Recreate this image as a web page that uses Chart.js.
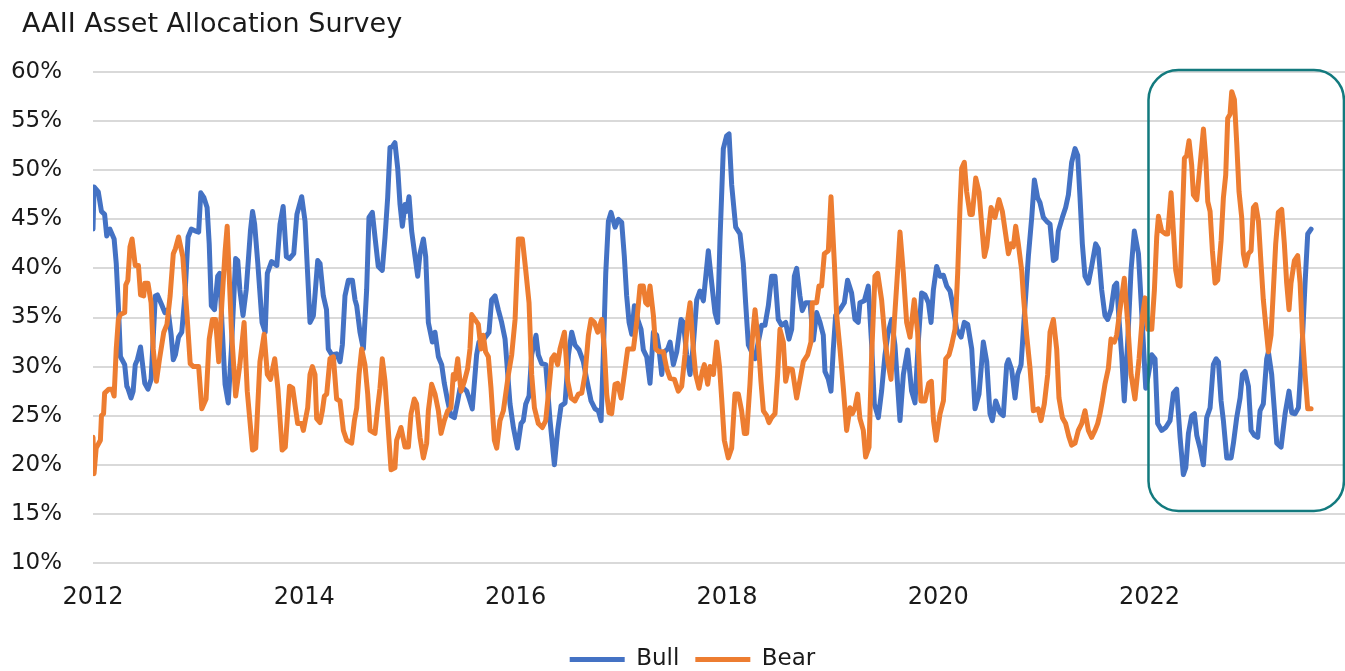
<!DOCTYPE html>
<html>
<head>
<meta charset="utf-8">
<title>AAII Asset Allocation Survey</title>
<script src="https://cdn.jsdelivr.net/npm/chart.js@4.4.0/dist/chart.umd.min.js"></script>
<style>
  html, body { margin: 0; padding: 0; background: #fff; }
</style>
</head>
<body>
<canvas id="surveyChart" width="1345" height="671"></canvas>
<script>
const chartTitle = 'AAII Asset Allocation Survey';
const seriesNames = ['Bull', 'Bear'];
const yearTicks = [2012, 2014, 2016, 2018, 2020, 2022];

// Bull sentiment, %
const bullYears = [
  2012.00, 2012.01, 2012.05, 2012.08, 2012.11, 2012.13, 2012.16, 2012.20, 2012.22, 2012.24,
  2012.26, 2012.30, 2012.32, 2012.33, 2012.36, 2012.38, 2012.40, 2012.42, 2012.45, 2012.49,
  2012.52, 2012.55, 2012.59, 2012.61, 2012.65, 2012.68, 2012.71, 2012.74, 2012.76, 2012.78,
  2012.81, 2012.84, 2012.87, 2012.90, 2012.93, 2012.97, 2013.00, 2013.02, 2013.05, 2013.08,
  2013.10, 2013.12, 2013.15, 2013.18, 2013.20, 2013.22, 2013.25, 2013.28, 2013.31, 2013.35,
  2013.37, 2013.39, 2013.42, 2013.45, 2013.49, 2013.51, 2013.53, 2013.56, 2013.60, 2013.63,
  2013.65, 2013.69, 2013.74, 2013.77, 2013.80, 2013.83, 2013.86, 2013.90, 2013.93, 2013.975,
  2014.007, 2014.054, 2014.086, 2014.127, 2014.149, 2014.18, 2014.21, 2014.227, 2014.26, 2014.306,
  2014.338, 2014.36, 2014.385, 2014.417, 2014.455, 2014.48, 2014.496, 2014.527, 2014.559, 2014.59,
  2014.612, 2014.644, 2014.669, 2014.70, 2014.738, 2014.764, 2014.789, 2014.811, 2014.833, 2014.858,
  2014.884, 2014.906, 2014.928, 2014.953, 2014.969, 2014.991, 2015.016, 2015.048, 2015.073, 2015.095,
  2015.127, 2015.149, 2015.174, 2015.212, 2015.237, 2015.269, 2015.30, 2015.325, 2015.357, 2015.388,
  2015.42, 2015.452, 2015.474, 2015.505, 2015.537, 2015.559, 2015.59, 2015.631, 2015.653, 2015.694,
  2015.748, 2015.773, 2015.805, 2015.836, 2015.868, 2015.90, 2015.947, 2015.979, 2016.017, 2016.051,
  2016.073, 2016.096, 2016.127, 2016.152, 2016.193, 2016.215, 2016.247, 2016.285, 2016.326, 2016.367,
  2016.398, 2016.43, 2016.468, 2016.50, 2016.531, 2016.562, 2016.60, 2016.641, 2016.673, 2016.714,
  2016.752, 2016.783, 2016.809, 2016.83, 2016.853, 2016.878, 2016.903, 2016.941, 2016.973, 2017.004,
  2017.029, 2017.051, 2017.074, 2017.099, 2017.124, 2017.156, 2017.187, 2017.209, 2017.241, 2017.272,
  2017.304, 2017.335, 2017.357, 2017.383, 2017.408, 2017.44, 2017.462, 2017.493, 2017.525, 2017.566,
  2017.588, 2017.619, 2017.651, 2017.682, 2017.714, 2017.745, 2017.777, 2017.824, 2017.856, 2017.887,
  2017.912, 2017.934, 2017.966, 2017.997, 2018.02, 2018.045, 2018.083, 2018.124, 2018.155, 2018.177,
  2018.203, 2018.234, 2018.266, 2018.297, 2018.329, 2018.36, 2018.392, 2018.423, 2018.455, 2018.486,
  2018.518, 2018.556, 2018.587, 2018.613, 2018.638, 2018.66, 2018.691, 2018.713, 2018.745, 2018.786,
  2018.818, 2018.849, 2018.881, 2018.912, 2018.928, 2018.96, 2018.985, 2019.007, 2019.029, 2019.07,
  2019.111, 2019.142, 2019.18, 2019.212, 2019.243, 2019.259, 2019.30, 2019.338, 2019.37, 2019.395,
  2019.433, 2019.464, 2019.496, 2019.527, 2019.559, 2019.59, 2019.638, 2019.67, 2019.71, 2019.748,
  2019.78, 2019.811, 2019.843, 2019.875, 2019.907, 2019.932, 2019.954, 2019.985, 2020.017, 2020.049,
  2020.08, 2020.112, 2020.134, 2020.175, 2020.216, 2020.247, 2020.279, 2020.317, 2020.348, 2020.386,
  2020.427, 2020.459, 2020.49, 2020.512, 2020.544, 2020.585, 2020.616, 2020.648, 2020.664, 2020.695,
  2020.727, 2020.752, 2020.784, 2020.815, 2020.853, 2020.885, 2020.91, 2020.941, 2020.963, 2020.995,
  2021.026, 2021.058, 2021.09, 2021.115, 2021.137, 2021.175, 2021.206, 2021.232, 2021.263, 2021.295,
  2021.32, 2021.342, 2021.364, 2021.389, 2021.421, 2021.452, 2021.49, 2021.515, 2021.547, 2021.578,
  2021.604, 2021.635, 2021.667, 2021.689, 2021.711, 2021.736, 2021.761, 2021.793, 2021.825, 2021.856,
  2021.895, 2021.926, 2021.964, 2021.989, 2022.021, 2022.052, 2022.077, 2022.115, 2022.153, 2022.194,
  2022.226, 2022.257, 2022.289, 2022.32, 2022.343, 2022.368, 2022.399, 2022.425, 2022.447, 2022.478,
  2022.51, 2022.541, 2022.573, 2022.604, 2022.63, 2022.652, 2022.677, 2022.699, 2022.731, 2022.772,
  2022.794, 2022.825, 2022.857, 2022.879, 2022.904, 2022.936, 2022.961, 2022.992, 2023.024, 2023.046,
  2023.077, 2023.109, 2023.125, 2023.156, 2023.182, 2023.204, 2023.245, 2023.283, 2023.32, 2023.346,
  2023.377, 2023.409, 2023.44, 2023.472, 2023.497, 2023.529
];
const bullValues = [
  44.0, 48.3, 47.8, 45.8, 45.5, 43.3, 44.0, 43.0, 40.5, 36.2,
  31.0, 30.2, 28.0, 27.8, 26.8, 27.5, 30.2, 30.7, 32.0, 28.3,
  27.7, 28.7, 37.2, 37.3, 36.3, 35.5, 35.8, 33.2, 30.7, 31.2,
  33.0, 33.5, 37.2, 43.2, 44.0, 43.8, 43.7, 47.7, 47.2, 46.2,
  42.5, 36.2, 35.8, 39.2, 39.5, 34.5, 28.2, 26.3, 31.8, 41.0,
  40.8, 37.8, 35.2, 37.8, 43.8, 45.8, 44.5, 40.5, 34.5, 33.5,
  39.5, 40.7, 40.3, 44.5, 46.3, 41.2, 41.0, 41.5, 45.5, 47.3,
  44.8, 34.5, 35.2, 40.8, 40.5, 37.2, 35.8, 31.8, 31.2, 31.3,
  30.5, 32.2, 37.2, 38.8, 38.8, 36.8, 36.2, 33.5, 31.8, 37.8,
  45.2, 45.7, 43.2, 40.2, 39.8, 43.2, 47.2, 52.3, 52.4, 52.8,
  50.2, 46.5, 44.3, 46.5, 45.8, 47.3, 43.8, 41.2, 39.2, 41.5,
  43.0, 41.2, 34.5, 32.5, 33.5, 31.0, 30.2, 28.3, 26.5, 25.0,
  24.8, 26.5, 27.8, 27.8, 27.5, 26.8, 25.7, 31.2, 32.5, 32.7,
  33.5, 36.8, 37.2, 35.8, 34.5, 32.8, 26.2, 23.8, 21.7, 24.2,
  24.5, 26.2, 27.0, 31.2, 33.2, 31.2, 30.3, 30.2, 24.5, 20.0,
  23.5, 26.0, 26.3, 31.2, 33.5, 32.2, 31.7, 30.5, 28.7, 26.5,
  25.7, 25.5, 24.5, 31.2, 39.5, 44.8, 45.7, 44.2, 45.0, 44.7,
  41.2, 37.2, 34.5, 33.3, 36.2, 34.8, 33.8, 31.7, 31.0, 28.3,
  33.5, 33.2, 31.8, 29.2, 31.5, 31.8, 32.5, 30.2, 31.5, 34.8,
  34.5, 31.2, 29.2, 32.2, 36.8, 37.7, 36.7, 41.8, 38.5, 35.5,
  34.5, 42.8, 52.2, 53.5, 53.7, 48.5, 44.2, 43.5, 40.5, 36.5,
  32.2, 31.5, 30.8, 32.5, 34.2, 34.2, 36.2, 39.2, 39.2, 34.8,
  34.2, 34.5, 32.8, 33.8, 39.2, 40.0, 37.2, 35.7, 36.5, 36.5,
  32.7, 35.5, 34.5, 33.2, 29.5, 28.7, 27.5, 31.8, 35.2, 35.8,
  36.5, 38.8, 37.5, 34.8, 34.5, 36.5, 36.7, 38.2, 32.2, 26.2,
  24.8, 27.5, 31.2, 33.5, 34.8, 32.2, 24.5, 29.2, 31.7, 27.5,
  26.3, 32.5, 37.5, 37.3, 36.5, 34.5, 37.8, 40.2, 39.2, 39.3,
  38.2, 37.7, 36.5, 33.8, 33.0, 34.5, 34.3, 31.8, 25.7, 27.2,
  32.5, 30.5, 25.2, 24.5, 26.5, 25.3, 25.0, 30.2, 30.7, 29.7,
  26.8, 29.2, 30.2, 35.2, 41.2, 45.2, 49.0, 47.2, 46.7, 45.2,
  44.8, 44.5, 40.8, 41.0, 43.8, 45.2, 46.2, 47.5, 50.8, 52.2,
  51.5, 47.2, 42.5, 39.2, 38.5, 40.2, 42.5, 42.0, 37.8, 35.2,
  34.8, 35.8, 38.2, 38.5, 34.8, 31.2, 26.5, 32.5, 39.8, 43.8,
  41.5, 35.5, 27.8, 29.2, 31.2, 30.8, 24.2, 23.5, 23.8, 24.5,
  27.3, 27.7, 22.8, 19.0, 19.7, 23.2, 25.0, 25.2, 23.0, 21.7,
  20.0, 24.8, 25.8, 30.2, 30.8, 30.5, 26.5, 24.5, 20.7, 20.7,
  22.2, 24.8, 26.8, 29.2, 29.5, 28.0, 23.5, 23.0, 22.8, 25.5,
  26.2, 30.8, 31.5, 29.2, 25.5, 22.2, 21.8, 25.2, 27.5, 25.3,
  25.2, 25.8, 31.2, 38.5, 43.5, 44.0
];

// Bear sentiment, %
const bearYears = [
  2012.00, 2012.01, 2012.03, 2012.07, 2012.08, 2012.10, 2012.11, 2012.15, 2012.18, 2012.20,
  2012.22, 2012.24, 2012.26, 2012.30, 2012.31, 2012.33, 2012.35, 2012.37, 2012.40, 2012.43,
  2012.45, 2012.48, 2012.49, 2012.52, 2012.55, 2012.57, 2012.60, 2012.63, 2012.67, 2012.70,
  2012.73, 2012.76, 2012.78, 2012.81, 2012.85, 2012.89, 2012.92, 2012.95, 2013.00, 2013.03,
  2013.07, 2013.10, 2013.13, 2013.16, 2013.19, 2013.22, 2013.25, 2013.27, 2013.31, 2013.35,
  2013.39, 2013.43, 2013.46, 2013.51, 2013.54, 2013.58, 2013.62, 2013.65, 2013.68, 2013.72,
  2013.75, 2013.79, 2013.82, 2013.86, 2013.89, 2013.937, 2013.975, 2013.991, 2014.032, 2014.054,
  2014.076, 2014.101, 2014.117, 2014.149, 2014.171, 2014.19, 2014.212, 2014.243, 2014.275, 2014.306,
  2014.338, 2014.37, 2014.401, 2014.448, 2014.474, 2014.496, 2014.518, 2014.543, 2014.574, 2014.60,
  2014.622, 2014.653, 2014.669, 2014.694, 2014.716, 2014.738, 2014.764, 2014.789, 2014.821, 2014.858,
  2014.874, 2014.915, 2014.953, 2014.985, 2015.01, 2015.041, 2015.063, 2015.095, 2015.127, 2015.158,
  2015.174, 2015.205, 2015.237, 2015.269, 2015.294, 2015.325, 2015.357, 2015.388, 2015.41, 2015.426,
  2015.452, 2015.483, 2015.515, 2015.546, 2015.568, 2015.584, 2015.615, 2015.647, 2015.672, 2015.694,
  2015.716, 2015.742, 2015.767, 2015.799, 2015.821, 2015.852, 2015.884, 2015.932, 2015.963, 2015.995,
  2016.026, 2016.064, 2016.096, 2016.127, 2016.152, 2016.178, 2016.215, 2016.253, 2016.285, 2016.316,
  2016.342, 2016.367, 2016.398, 2016.42, 2016.462, 2016.493, 2016.525, 2016.562, 2016.594, 2016.626,
  2016.657, 2016.689, 2016.714, 2016.745, 2016.777, 2016.815, 2016.84, 2016.862, 2016.884, 2016.909,
  2016.941, 2016.966, 2016.998, 2017.029, 2017.061, 2017.115, 2017.146, 2017.178, 2017.209, 2017.231,
  2017.25, 2017.272, 2017.304, 2017.326, 2017.357, 2017.398, 2017.43, 2017.462, 2017.503, 2017.54,
  2017.572, 2017.603, 2017.629, 2017.651, 2017.682, 2017.704, 2017.736, 2017.767, 2017.786, 2017.818,
  2017.84, 2017.872, 2017.903, 2017.93, 2017.95, 2017.975, 2018.013, 2018.045, 2018.076, 2018.108,
  2018.139, 2018.165, 2018.187, 2018.218, 2018.24, 2018.266, 2018.297, 2018.322, 2018.345, 2018.376,
  2018.398, 2018.423, 2018.455, 2018.48, 2018.502, 2018.534, 2018.556, 2018.581, 2018.619, 2018.66,
  2018.701, 2018.723, 2018.764, 2018.795, 2018.808, 2018.849, 2018.871, 2018.896, 2018.922, 2018.96,
  2018.985, 2019.017, 2019.039, 2019.07, 2019.102, 2019.133, 2019.165, 2019.187, 2019.212, 2019.237,
  2019.259, 2019.291, 2019.313, 2019.345, 2019.37, 2019.401, 2019.427, 2019.464, 2019.496, 2019.527,
  2019.553, 2019.584, 2019.616, 2019.638, 2019.67, 2019.701, 2019.733, 2019.773, 2019.805, 2019.836,
  2019.874, 2019.91, 2019.935, 2019.955, 2019.98, 2020.017, 2020.049, 2020.071, 2020.102, 2020.127,
  2020.159, 2020.184, 2020.206, 2020.222, 2020.247, 2020.269, 2020.301, 2020.323, 2020.355, 2020.386,
  2020.411, 2020.437, 2020.459, 2020.50, 2020.537, 2020.575, 2020.607, 2020.638, 2020.664, 2020.689,
  2020.711, 2020.733, 2020.758, 2020.79, 2020.806, 2020.837, 2020.869, 2020.90, 2020.947, 2020.973,
  2021.004, 2021.036, 2021.058, 2021.09, 2021.121, 2021.143, 2021.175, 2021.206, 2021.238, 2021.263,
  2021.295, 2021.326, 2021.358, 2021.389, 2021.421, 2021.452, 2021.484, 2021.509, 2021.531, 2021.553,
  2021.578, 2021.61, 2021.635, 2021.667, 2021.689, 2021.72, 2021.761, 2021.793, 2021.825, 2021.862,
  2021.901, 2021.933, 2021.958, 2021.983, 2022.021, 2022.046, 2022.068, 2022.084, 2022.115, 2022.153,
  2022.172, 2022.204, 2022.226, 2022.248, 2022.273, 2022.289, 2022.311, 2022.33, 2022.352, 2022.374,
  2022.399, 2022.415, 2022.447, 2022.478, 2022.51, 2022.532, 2022.551, 2022.573, 2022.595, 2022.62,
  2022.645, 2022.677, 2022.699, 2022.721, 2022.74, 2022.762, 2022.778, 2022.803, 2022.825, 2022.847,
  2022.872, 2022.888, 2022.91, 2022.936, 2022.961, 2022.983, 2023.005, 2023.031, 2023.055, 2023.077,
  2023.10, 2023.125, 2023.15, 2023.172, 2023.194, 2023.219, 2023.251, 2023.276, 2023.298, 2023.32,
  2023.339, 2023.371, 2023.402, 2023.425, 2023.446, 2023.472, 2023.497, 2023.529
];
const bearValues = [
  22.8, 19.1, 21.7, 22.5, 25.0, 25.2, 27.3, 27.7, 27.7, 27.0,
  31.8, 34.8, 35.3, 35.5, 38.3, 38.8, 42.2, 43.0, 40.3, 40.3,
  37.3, 37.2, 38.5, 38.5, 36.5, 31.8, 28.5, 30.8, 33.5, 34.3,
  37.2, 41.5, 42.0, 43.2, 41.2, 35.2, 30.3, 30.0, 30.0, 25.7,
  26.7, 32.8, 34.8, 34.8, 30.5, 36.5, 41.7, 44.3, 33.8, 27.0,
  30.2, 34.5, 27.5, 21.5, 21.7, 30.5, 33.3, 29.2, 28.7, 30.8,
  27.8, 21.5, 21.8, 28.0, 27.8, 24.2, 24.2, 23.5, 25.8, 29.2,
  30.0, 29.2, 24.7, 24.3, 25.5, 27.0, 27.2, 30.8, 31.0, 26.7,
  26.5, 23.5, 22.5, 22.2, 24.5, 25.8, 29.2, 31.8, 30.2, 27.2,
  23.5, 23.3, 23.2, 25.8, 27.8, 30.8, 28.5, 24.5, 19.5, 19.7,
  22.5, 23.8, 21.8, 21.8, 25.2, 26.7, 26.2, 22.8, 20.7, 22.2,
  25.5, 28.2, 27.2, 25.5, 23.2, 24.5, 25.5, 25.8, 29.2, 28.7,
  30.8, 27.5, 28.5, 29.8, 31.8, 35.3, 34.8, 34.3, 31.8, 33.2,
  31.5, 31.0, 27.8, 22.5, 21.7, 24.5, 25.5, 29.2, 31.2, 34.8,
  43.0, 43.0, 39.8, 36.5, 29.2, 25.8, 24.2, 23.8, 24.5, 27.8,
  30.8, 31.2, 30.2, 31.8, 33.5, 28.5, 26.8, 26.5, 27.2, 27.3,
  29.2, 33.2, 34.8, 34.5, 33.5, 34.8, 31.8, 27.2, 25.3, 25.2,
  28.2, 28.3, 26.8, 29.2, 31.8, 31.8, 34.5, 38.2, 38.2, 36.5,
  36.3, 38.2, 35.2, 31.8, 31.5, 31.5, 29.8, 28.8, 28.7, 27.5,
  28.0, 31.2, 34.8, 36.5, 31.8, 29.2, 27.8, 29.5, 30.2, 28.2,
  30.0, 29.2, 32.5, 30.0, 26.8, 22.5, 20.7, 21.7, 27.2, 27.2,
  25.5, 23.2, 23.2, 28.2, 32.8, 35.8, 32.5, 28.5, 25.5, 25.0,
  24.3, 24.8, 25.2, 29.2, 33.8, 32.5, 28.5, 29.8, 29.7, 26.8,
  29.2, 30.5, 31.2, 32.5, 36.5, 36.5, 38.2, 38.2, 41.5, 41.8,
  47.3, 40.5, 35.2, 31.8, 27.8, 23.5, 25.8, 25.2, 25.8, 27.2,
  24.7, 23.5, 20.8, 21.8, 31.2, 39.2, 39.5, 36.8, 32.8, 30.2,
  28.7, 34.5, 39.8, 43.7, 39.5, 34.5, 33.0, 36.8, 33.5, 26.5,
  26.5, 28.3, 28.5, 24.5, 22.5, 25.2, 26.5, 30.8, 31.2, 32.2,
  33.8, 39.5, 46.2, 50.2, 50.8, 47.8, 45.5, 45.5, 49.2, 47.8,
  44.5, 41.2, 42.2, 46.2, 45.2, 47.0, 45.8, 43.5, 41.5, 42.5,
  42.2, 44.3, 42.5, 39.8, 37.2, 33.2, 29.8, 25.5, 25.7, 24.5,
  26.2, 29.2, 33.5, 34.8, 31.8, 26.8, 24.8, 24.2, 22.8, 22.0,
  22.2, 23.5, 24.2, 25.5, 23.5, 22.8, 23.5, 24.2, 25.2, 26.5,
  28.2, 29.8, 32.8, 32.5, 33.2, 35.8, 39.0, 34.5, 29.2, 26.7,
  30.8, 35.2, 37.0, 33.8, 33.8, 37.8, 43.2, 45.3, 43.8, 43.5,
  43.5, 47.7, 43.8, 39.8, 38.3, 38.2, 45.2, 51.2, 51.5, 53.0,
  50.5, 47.5, 47.0, 50.5, 54.2, 51.2, 46.8, 45.8, 41.8, 38.5,
  38.8, 42.8, 47.2, 49.5, 55.3, 55.7, 58.0, 57.2, 52.8, 47.8,
  45.2, 41.5, 40.3, 41.5, 41.8, 46.2, 46.5, 44.8, 40.5, 36.8,
  34.2, 31.5, 33.2, 37.8, 42.5, 45.7, 46.0, 42.5, 38.5, 35.8,
  38.5, 40.8, 41.3, 38.5, 33.5, 29.2, 25.7, 25.7
];

// highlighted window round 2022-2023, in data units
const highlightYears = [2021.99, 2023.84];
const highlightPct = [15.3, 60.2];

const FONT = "'DejaVu Sans', 'Open Sans', sans-serif";
const TEXT = '#1a1a1a';

function toPoints(xs, ys) {
    return ys.map((v, i) => ({ x: xs[i], y: v }));
}

const titlePlugin = {
    id: 'leftTitle',
    afterDraw(chart) {
        const ctx = chart.ctx;
        ctx.save();
        ctx.font = '27px ' + FONT;
        ctx.fillStyle = TEXT;
        ctx.textBaseline = 'alphabetic';
        ctx.textAlign = 'left';
        ctx.fillText(chartTitle, 22, 32);
        ctx.restore();
    }
};

// legend in the reference sits a little right of centre
const legendNudge = {
    id: 'legendNudge',
    afterLayout(chart) {
        chart.legend.left += 20;
        chart.legend.right += 20;
    }
};

const highlightPlugin = {
    id: 'highlightBox',
    afterDatasetsDraw(chart) {
        const x = chart.scales.x, y = chart.scales.y;
        const left = x.getPixelForValue(highlightYears[0]);
        const right = x.getPixelForValue(highlightYears[1]);
        const top = y.getPixelForValue(highlightPct[1]);
        const bottom = y.getPixelForValue(highlightPct[0]);
        const ctx = chart.ctx;
        ctx.save();
        ctx.strokeStyle = '#137a7e';
        ctx.lineWidth = 2.5;
        ctx.beginPath();
        ctx.roundRect(left, top, right - left, bottom - top, 30);
        ctx.stroke();
        ctx.restore();
    }
};

const ctx = document.getElementById('surveyChart').getContext('2d');
new Chart(ctx, {
    type: 'line',
    data: {
        datasets: [{
            label: seriesNames[0],
            data: toPoints(bullYears, bullValues),
            borderColor: '#4472c4',
            backgroundColor: '#4472c4',
            borderWidth: 5,
            pointRadius: 0,
            tension: 0,
            borderJoinStyle: 'round',
            borderCapStyle: 'round',
            order: 1
        }, {
            label: seriesNames[1],
            data: toPoints(bearYears, bearValues),
            borderColor: '#ed7d31',
            backgroundColor: '#ed7d31',
            borderWidth: 5,
            pointRadius: 0,
            tension: 0,
            borderJoinStyle: 'round',
            borderCapStyle: 'round',
            order: 0
        }]
    },
    options: {
        responsive: false,
        animation: false,
        layout: { padding: { top: 72, right: 0, bottom: -10, left: 0 } },
        plugins: {
            title: { display: false },
            tooltip: { enabled: false },
            legend: {
                position: 'bottom',
                labels: {
                    boxWidth: 55,
                    boxHeight: 5,
                    padding: 16,
                    color: TEXT,
                    font: { family: FONT, size: 23 },
                    sort: (a, b) => a.datasetIndex - b.datasetIndex,
                    generateLabels(chart) {
                        const items = Chart.defaults.plugins.legend.labels.generateLabels(chart);
                        items.forEach(it => { it.lineWidth = 0; });
                        return items;
                    }
                }
            }
        },
        scales: {
            x: {
                type: 'linear',
                min: 2012,
                max: 2023.85,
                afterBuildTicks(scale) {
                    scale.ticks = yearTicks.map(v => ({ value: v }));
                },
                afterFit(scale) { scale.height = 69; },
                grid: { display: false, drawTicks: false },
                border: { display: false },
                ticks: {
                    autoSkip: false,
                    maxRotation: 0,
                    padding: 20,
                    color: TEXT,
                    font: { family: FONT, size: 24 },
                    callback: v => String(v)
                }
            },
            y: {
                min: 10,
                max: 60,
                afterFit(scale) { scale.width = 93; },
                grid: { color: '#d9d9d9', lineWidth: 2, drawTicks: false },
                border: { display: false },
                ticks: {
                    stepSize: 5,
                    padding: 31,
                    color: TEXT,
                    font: { family: FONT, size: 23 },
                    callback: v => v + '%'
                }
            }
        }
    },
    plugins: [titlePlugin, legendNudge, highlightPlugin]
});
</script>
</body>
</html>
